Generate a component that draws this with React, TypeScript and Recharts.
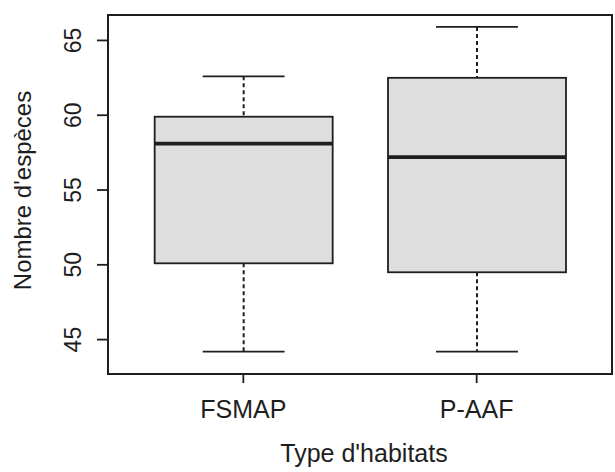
import React from 'react';
import { ComposedChart, Bar, XAxis, YAxis, ReferenceArea } from 'recharts';

// habitat types and five-number summaries
const habitats = ['FSMAP', 'P-AAF'];
const positions = [1, 2];
const lowWhisker = [44.2, 44.2];
const lowerQuartile = [50.1, 49.5];
const medians = [58.1, 57.2];
const upperQuartile = [59.9, 62.5];
const highWhisker = [62.6, 65.9];
const yTicks = [45, 50, 55, 60, 65];

const data = habitats.map((name, i) => ({
  name,
  pos: positions[i],
  min: lowWhisker[i],
  q1: lowerQuartile[i],
  median: medians[i],
  q3: upperQuartile[i],
  max: highWhisker[i],
}));

const INK = '#1e1e1e';
const FONT = '"Liberation Sans", Arial, Helvetica, sans-serif';

const BoxShape = (props: any) => {
  const { x, y, width, height, payload } = props;
  const { min, q1, median, q3, max } = payload;
  // map a value inside [min, max] to the pixel range the bar was given
  const toPx = (v: number) => y + (height * (max - v)) / (max - min);
  const cx = x + width / 2;
  const cap = width * 0.46;
  return (
    <g>
      <line x1={cx} x2={cx} y1={toPx(max)} y2={toPx(q3)} stroke={INK} strokeWidth={2} strokeDasharray="4 3" />
      <line x1={cx} x2={cx} y1={toPx(q1)} y2={toPx(min)} stroke={INK} strokeWidth={2} strokeDasharray="4 3" />
      <line x1={cx - cap / 2} x2={cx + cap / 2} y1={toPx(max)} y2={toPx(max)} stroke={INK} strokeWidth={1.8} />
      <line x1={cx - cap / 2} x2={cx + cap / 2} y1={toPx(min)} y2={toPx(min)} stroke={INK} strokeWidth={1.8} />
      <rect x={x} y={toPx(q3)} width={width} height={toPx(q1) - toPx(q3)} fill="#dedede" stroke={INK} strokeWidth={1.8} />
      <line x1={x} x2={x + width} y1={toPx(median)} y2={toPx(median)} stroke={INK} strokeWidth={3.6} />
    </g>
  );
};

// R draws the y labels parallel to the axis, a fixed distance left of it
const YTick = ({ y, payload }: any) => {
  const bx = 81;
  return (
    <g transform={`translate(${bx}, ${y}) rotate(-90)`}>
      <text x={0} y={0} textAnchor="middle" fontSize={23} fill={INK} fontFamily={FONT}>
        {payload.value}
      </text>
    </g>
  );
};

const XTick = ({ x, y, payload }: any) => (
  <text x={x} y={y} dy={33} textAnchor="middle" fontSize={25} fill={INK} fontFamily={FONT}>
    {habitats[positions.indexOf(payload.value)]}
  </text>
);

export default function App() {
  return (
    <div style={{ position: 'absolute', left: 0, top: 0, background: '#fff' }}>
      <ComposedChart width={615} height={472} data={data} margin={{ top: 15, right: 3, left: 0, bottom: 0 }}>
        <XAxis
          dataKey="pos"
          type="number"
          domain={[0.42, 2.58]}
          ticks={positions}
          allowDataOverflow
          height={98}
          axisLine={false}
          tickSize={9}
          tickLine={{ stroke: INK, strokeWidth: 1.8 }}
          tick={<XTick />}
          label={{
            content: ({ viewBox }: any) => (
              <text
                x={viewBox.x + viewBox.width / 2 + 4}
                y={viewBox.y + 88}
                textAnchor="middle"
                fontSize={25}
                fill={INK}
                fontFamily={FONT}
              >
                Type d'habitats
              </text>
            ),
          }}
        />
        <YAxis
          type="number"
          domain={[42.7, 66.7]}
          ticks={yTicks}
          allowDataOverflow
          width={108}
          axisLine={false}
          tickSize={11}
          tickLine={{ stroke: INK, strokeWidth: 1.8 }}
          tick={<YTick />}
          label={{
            content: ({ viewBox }: any) => {
              const cy = viewBox.y + viewBox.height / 2 - 4;
              return (
                <g transform={`translate(31, ${cy}) rotate(-90)`}>
                  <text x={0} y={0} textAnchor="middle" fontSize={24} fill={INK} fontFamily={FONT}>
                    Nombre d'espèces
                  </text>
                </g>
              );
            },
          }}
        />
        <ReferenceArea x1={0.42} x2={2.58} y1={42.7} y2={66.7} fill="none" stroke={INK} strokeWidth={2} ifOverflow="visible" />
        <Bar
          dataKey={(d: any) => [d.min, d.max]}
          barSize={178}
          shape={<BoxShape />}
          isAnimationActive={false}
        />
      </ComposedChart>
    </div>
  );
}
